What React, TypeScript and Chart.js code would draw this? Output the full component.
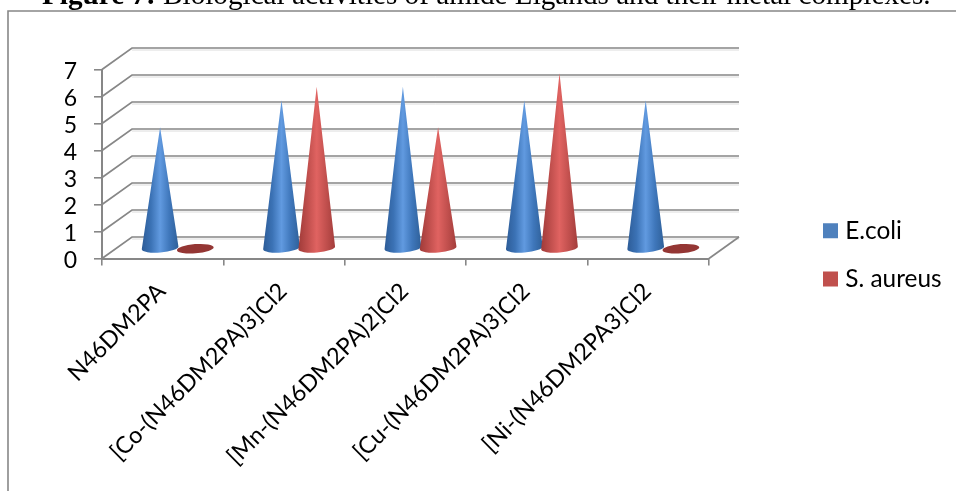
import React, { useEffect, useRef } from "react";
import { Chart, registerables } from "chart.js";

Chart.register(...registerables);

const categories = [
  "N46DM2PA",
  "[Co-(N46DM2PA)3]Cl2",
  "[Mn-(N46DM2PA)2]Cl2",
  "[Cu-(N46DM2PA)3]Cl2",
  "[Ni-(N46DM2PA3]Cl2",
];
const ecoli = [4.5, 5.5, 6, 5.5, 5.5];
const aureus = [0, 6, 4.5, 6.5, 0];
const seriesNames = ["E.coli", "S. aureus"];
const seriesColors = ["#4f81bd", "#c0504d"];
const yTicks = [0, 1, 2, 3, 4, 5, 6, 7];

const LINE = "#878787";
const FONT = "Lato";
const BACK_X = 30;
const BACK_Y = -21.5;
const MID_X = 15;
const MID_Y = -9.8;

const ramps = [
  ["#2d5c97", "#3b72b5", "#619ae0", "#3f77bb", "#2f6099"],
  ["#a03b39", "#bf4e4c", "#e06361", "#c2504e", "#a33d3b"],
];
const flatColor = "#943634";

function drawCone(ctx: CanvasRenderingContext2D, x: number, base: number, tip: number, rx: number, ramp: string[]) {
  const ry = 4.6;
  const tilt = (-4.5 * Math.PI) / 180;
  if (base - tip < 1) {
    ctx.fillStyle = flatColor;
    ctx.beginPath();
    ctx.ellipse(x, base, rx, ry, tilt, 0, Math.PI * 2);
    ctx.fill();
    return;
  }
  const g = ctx.createLinearGradient(x - rx, 0, x + rx, 0);
  ramp.forEach((c, i) => g.addColorStop(i / (ramp.length - 1), c));
  ctx.fillStyle = g;
  ctx.beginPath();
  ctx.moveTo(x, tip);
  ctx.lineTo(x + rx * Math.cos(tilt), base + rx * Math.sin(tilt));
  ctx.ellipse(x, base, rx, ry, tilt, 0, Math.PI);
  ctx.closePath();
  ctx.fill();
}

const scene3d = {
  id: "scene3d",
  afterLayout(chart: any) {
    const l = chart.legend;
    l.left = 804;
    l.right = 956;
    l.top = 194.5;
    l.bottom = 330;
  },
  beforeDraw(chart: any) {
    const { ctx } = chart;
    ctx.save();
    ctx.fillStyle = "#fff";
    ctx.fillRect(0, 0, chart.width, chart.height);
    ctx.strokeStyle = LINE;
    ctx.lineWidth = 1.6;
    ctx.beginPath();
    ctx.moveTo(8, 491);
    ctx.lineTo(8, 11);
    ctx.lineTo(956, 11);
    ctx.stroke();
    ctx.restore();
  },
  beforeDatasetsDraw(chart: any) {
    const { ctx, chartArea, scales } = chart;
    const y = scales.y;
    const { left, right } = chartArea;
    ctx.save();
    yTicks.forEach((v) => {
      const py = y.getPixelForValue(v);
      ctx.strokeStyle = "#dcdcdc";
      ctx.lineWidth = 1;
      ctx.beginPath();
      ctx.moveTo(left + BACK_X, py + BACK_Y + 2);
      ctx.lineTo(right + BACK_X, py + BACK_Y + 2);
      ctx.stroke();
      ctx.strokeStyle = LINE;
      ctx.lineWidth = 1.7;
      ctx.beginPath();
      ctx.moveTo(left, py);
      ctx.lineTo(left + BACK_X, py + BACK_Y);
      ctx.lineTo(right + BACK_X, py + BACK_Y);
      ctx.stroke();
    });
    const y0 = y.getPixelForValue(0);
    ctx.beginPath();
    ctx.moveTo(right + BACK_X, y0 + BACK_Y);
    ctx.lineTo(right, y0);
    ctx.stroke();
    chart.data.datasets.forEach((_: any, di: number) => {
      chart.getDatasetMeta(di).data.forEach((el: any) => {
        const p = el.getProps(["x", "y", "base", "width"], true);
        drawCone(ctx, p.x + MID_X, p.base + MID_Y, p.y + MID_Y, p.width / 2 + 0.8, ramps[di]);
      });
    });
    ctx.restore();
    return false;
  },
};

export default function App() {
  const ref = useRef<HTMLCanvasElement>(null);
  useEffect(() => {
    const chart = new Chart(ref.current as HTMLCanvasElement, {
      type: "bar",
      data: {
        labels: categories,
        datasets: [
          { label: seriesNames[0], data: ecoli, backgroundColor: seriesColors[0], borderColor: seriesColors[0], borderWidth: 10 },
          { label: seriesNames[1], data: aureus, backgroundColor: seriesColors[1], borderColor: seriesColors[1], borderWidth: 10 },
        ],
      },
      options: {
        responsive: false,
        devicePixelRatio: 1,
        animation: false,
        layout: { padding: { top: 69.5, right: 246, bottom: 0, left: 0 } },
        datasets: { bar: { categoryPercentage: 0.58, barPercentage: 1 } },
        plugins: {
          title: { display: false },
          tooltip: { enabled: false },
          legend: {
            position: "right",
            align: "start",
            maxWidth: 1,
            labels: { boxWidth: 5, boxHeight: 5, padding: 24, color: "#000", font: { family: FONT, size: 24.4 } },
          },
        },
        scales: {
          x: {
            afterFit: (s: any) => { s.height = 232.5; },
            border: { color: LINE, width: 2 },
            grid: { drawOnChartArea: false, drawTicks: true, tickLength: 7, tickColor: LINE, lineWidth: 1.6 },
            ticks: { autoSkip: false, maxRotation: 45, minRotation: 45, color: "#000", padding: 12, labelOffset: -1, font: { family: FONT, size: 23.4 } },
          },
          y: {
            min: 0,
            max: 7,
            afterFit: (s: any) => { s.width = 102; },
            border: { color: LINE, width: 2 },
            grid: { drawOnChartArea: false, drawTicks: true, tickLength: 8, tickColor: LINE, lineWidth: 1.6 },
            ticks: { autoSkip: false, stepSize: 1, color: "#000", padding: 17, labelOffset: 2, font: { family: FONT, size: 23 } },
          },
        },
      },
      plugins: [scene3d],
    } as any);
    return () => chart.destroy();
  }, []);
  return (
    <div style={{ position: "absolute", left: 0, top: 0, width: 956, height: 491, overflow: "hidden", background: "#fff" }}>
      <canvas ref={ref} width={956} height={491} style={{ display: "block", position: "absolute", left: 0, top: 0 }} />
      <div style={{ position: "absolute", left: 42, top: -20, whiteSpace: "nowrap", color: "#000", fontFamily: "'Liberation Serif', serif", fontSize: 29.2, lineHeight: "28px" }}>
        <b>Figure 7:</b> Biological activities of amide Ligands and their metal complexes.
      </div>
    </div>
  );
}
